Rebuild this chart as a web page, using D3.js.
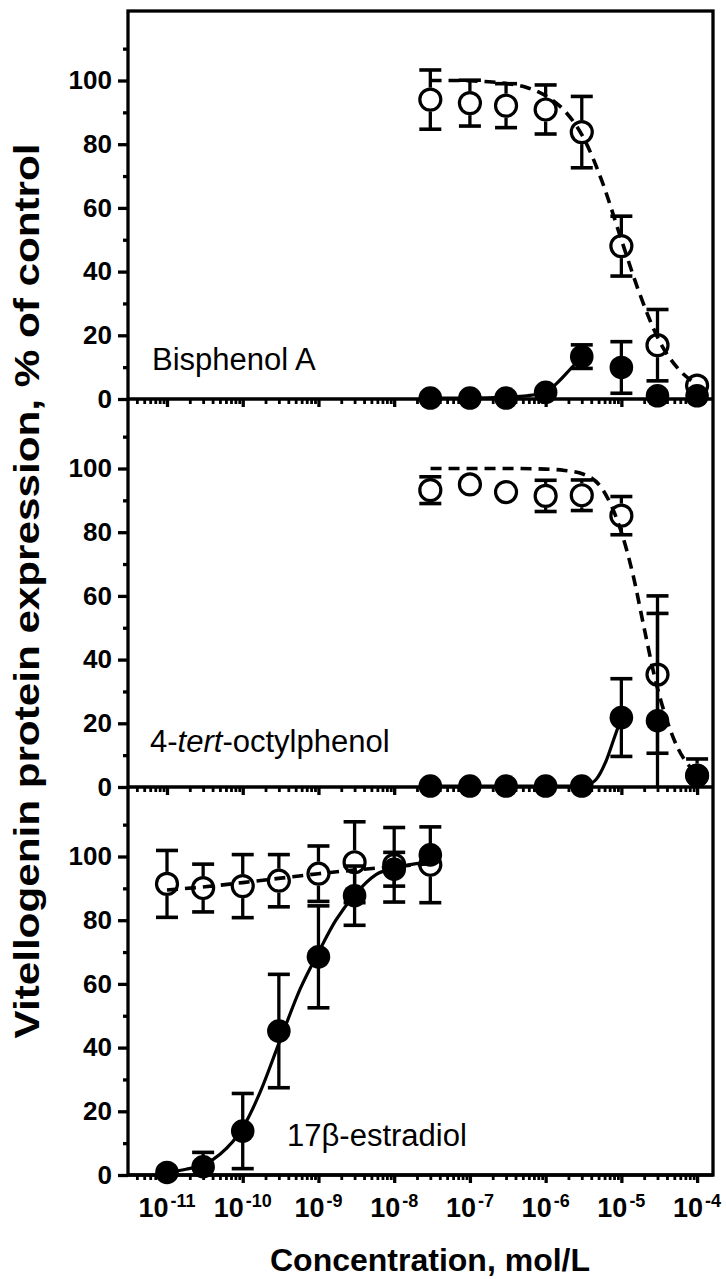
<!DOCTYPE html>
<html><head><meta charset="utf-8">
<script src="https://cdn.jsdelivr.net/npm/d3@7"></script>
<style>body{margin:0;background:#fff} svg{display:block}</style>
</head><body>
<svg id="chart" width="726" height="1279"></svg>
<script>
// ---------------- data ----------------
const concPhenols = [3e-8, 1e-7, 3e-7, 1e-6, 3e-6, 1e-5, 3e-5, 1e-4];
const concE2 = [1e-11, 3e-11, 1e-10, 3e-10, 1e-9, 3e-9, 1e-8, 3e-8];

// Bisphenol A
const bpaOpenMean = [94.0, 92.9, 92.1, 90.9, 83.8, 48.0, 16.9, 4.2];
const bpaOpenErr  = [9.3, 7.2, 6.9, 7.7, 11.2, 9.4, 11.2, 0];
const bpaFilledMean = [0.3, 0.3, 0.3, 2.1, 13.3, 9.9, 1.0, 1.0];
const bpaFilledErr  = [0, 0, 0, 0, 3.7, 8.1, 0, 0];
// fitted curves: [log10 conc, value]
const bpaOpenFitX = [-7.52, -7.25, -7, -6.75, -6.5, -6.25, -6, -5.75, -5.5, -5.25, -5, -4.75, -4.5, -4.25, -4];
const bpaOpenFitY = [100, 100, 99.9, 99.6, 99.0, 97.8, 95.2, 90.5, 82, 68, 50, 32.5, 18.3, 9.5, 4.6];
const bpaFilledFitX = [-7.52, -7, -6.52, -6.25, -6, -5.85, -5.67, -5.52];
const bpaFilledFitY = [0.3, 0.3, 0.6, 1.0, 2.1, 5.0, 9.5, 13.3];

// 4-tert-octylphenol
const opOpenMean = [93.2, 95.0, 92.6, 91.4, 91.6, 85.2, 35.3, 3.6];
const opOpenErr  = [4.2, 0, 0, 4.9, 4.8, 6.0, 24.7, 5.2];
const opFilledMean = [0.3, 0.3, 0.3, 0.3, 0.3, 21.8, 20.8, 3.6];
const opFilledErr  = [0, 0, 0, 0, 0, 12.2, 33.7, 0];
const opOpenFitX = [-7.52, -7, -6.5, -6, -5.75, -5.5, -5.25, -5, -4.85, -4.7, -4.55, -4.4, -4.25, -4.1, -4];
const opOpenFitY = [100, 100, 100, 99.8, 99.4, 98.2, 93.5, 80, 67, 50, 33.5, 21, 12, 6.5, 4.2];
const opFilledFitX = [-7.52, -7, -6.5, -6, -5.52, -5.42, -5.34, -5.2, -5.1, -5];
const opFilledFitY = [0.3, 0.3, 0.3, 0.3, 0.3, 0.9, 2.2, 8.3, 15, 21.8];

// 17beta-estradiol
const e2OpenMean = [91.4, 90.1, 90.7, 92.4, 94.6, 98.2, 97.4, 97.4];
const e2OpenErr  = [10.5, 7.5, 9.9, 8.2, 8.7, 12.7, 11.7, 11.9];
const e2FilledMean = [0.8, 2.6, 13.8, 45.2, 68.5, 87.7, 96.0, 100.5];
const e2FilledErr  = [0, 4.5, 11.8, 17.8, 16.0, 9.3, 5.3, 0];
const e2OpenFitX = [-11, -10.5, -10, -9.5, -9, -8.5, -8, -7.52];
const e2OpenFitY = [89.5, 90.5, 91.8, 93.2, 94.6, 95.8, 96.8, 97.8];
const e2FilledFitX = [-11, -10.75, -10.5, -10.3, -10, -9.77, -9.52, -9.24, -9, -8.77, -8.52, -8.24, -8, -7.75, -7.52];
const e2FilledFitY = [0.8, 1.8, 3.4, 6.5, 14.8, 26, 41.5, 58.5, 69.9, 80, 88, 94.3, 96.4, 97.6, 98.4];

const panelLabels = ["Bisphenol A", "4-tert-octylphenol", "17β-estradiol"];
const yMajorTicks = [0, 20, 40, 60, 80, 100];
const yMinorTicks = [10, 30, 50, 70, 90, 110];
const xMajorExp = [-11, -10, -9, -8, -7, -6, -5, -4];
const xLabel = "Concentration, mol/L";
const yLabel = "Vitellogenin protein expression, % of control";

// ---------------- layout ----------------
const L = 128, R = 713, T = 11, PH = 388;
const FONT = "Liberation Sans, Arial, sans-serif";
const svg = d3.select("#chart");
const x = d3.scaleLog().domain([Math.pow(10, -11.515), Math.pow(10, -3.79)]).range([L, R]);
const xMajor = xMajorExp.map(e => Math.pow(10, e));
const xMinor = x.ticks().filter(v => Math.abs(Math.log10(v) - Math.round(Math.log10(v))) > 1e-6);

const panels = [
  {conc: concPhenols, om: bpaOpenMean, oe: bpaOpenErr, fm: bpaFilledMean, fe: bpaFilledErr,
   ofx: bpaOpenFitX, ofy: bpaOpenFitY, ffx: bpaFilledFitX, ffy: bpaFilledFitY, lx: 152, ly: 370},
  {conc: concPhenols, om: opOpenMean, oe: opOpenErr, fm: opFilledMean, fe: opFilledErr,
   ofx: opOpenFitX, ofy: opOpenFitY, ffx: opFilledFitX, ffy: opFilledFitY, lx: 150, ly: 752},
  {conc: concE2, om: e2OpenMean, oe: e2OpenErr, fm: e2FilledMean, fe: e2FilledErr,
   ofx: e2OpenFitX, ofy: e2OpenFitY, ffx: e2FilledFitX, ffy: e2FilledFitY, lx: 287, ly: 1146}
];

const R_OPEN = 10.5, R_FILL = 11.8, CAP = 11, SW = 3.3;

panels.forEach((p, i) => {
  const zero = T + PH * (i + 1);
  const y = d3.scaleLinear().domain([0, PH / 3.185]).range([zero, zero - PH]);
  const g = svg.append("g");

  // y axis major & minor
  const ya = g.append("g").attr("transform", `translate(${L},0)`)
    .call(d3.axisLeft(y).tickValues(yMajorTicks).tickSize(10).tickPadding(6).tickFormat(d3.format("d")));
  ya.select(".domain").remove();
  ya.selectAll("line").attr("stroke", "#000").attr("stroke-width", SW);
  ya.selectAll("text").attr("font-family", FONT)
    .attr("font-weight", "bold").attr("font-size", 26).attr("fill", "#000");
  const ym = g.append("g").attr("transform", `translate(${L},0)`)
    .call(d3.axisLeft(y).tickValues(yMinorTicks).tickSize(5).tickFormat(""));
  ym.select(".domain").remove();
  ym.selectAll("line").attr("stroke", "#000").attr("stroke-width", SW);

  // x axis ticks at zero line
  const xa = g.append("g").attr("transform", `translate(0,${zero})`)
    .call(d3.axisBottom(x).tickValues(xMajor).tickSize(8).tickFormat(""));
  xa.select(".domain").remove();
  xa.selectAll("line").attr("stroke", "#000").attr("stroke-width", SW);
  const xm = g.append("g").attr("transform", `translate(0,${zero})`)
    .call(d3.axisBottom(x).tickValues(xMinor).tickSize(5).tickFormat(""));
  xm.select(".domain").remove();
  xm.selectAll("line").attr("stroke", "#000").attr("stroke-width", 2.8);

  // zero line
  g.append("line").attr("x1", L).attr("x2", R).attr("y1", zero).attr("y2", zero)
    .attr("stroke", "#000").attr("stroke-width", SW);

  // curves
  const line = d3.line().x(d => x(Math.pow(10, d[0]))).y(d => y(d[1])).curve(d3.curveMonotoneX);
  g.append("path").attr("d", line(p.ofx.map((v, k) => [v, p.ofy[k]])))
    .attr("fill", "none").attr("stroke", "#000").attr("stroke-width", 3.6).attr("stroke-dasharray", "11,7");
  g.append("path").attr("d", line(p.ffx.map((v, k) => [v, p.ffy[k]])))
    .attr("fill", "none").attr("stroke", "#000").attr("stroke-width", 3.2);

  // error bars
  function errBars(means, errs, open) {
    means.forEach((m, k) => {
      const e = errs[k];
      if (!e) return;
      const cx = x(p.conc[k]);
      const cy = y(m);
      const upV = m + e, loV = m - e;
      const up = y(upV);
      const inner = open ? R_OPEN + 1.5 : 0;
      if (up < cy - inner) {
        g.append("line").attr("x1", cx).attr("x2", cx).attr("y1", cy - inner).attr("y2", up)
          .attr("stroke", "#000").attr("stroke-width", SW);
        g.append("line").attr("x1", cx - CAP).attr("x2", cx + CAP).attr("y1", up).attr("y2", up)
          .attr("stroke", "#000").attr("stroke-width", 3.6);
      }
      const lo = y(Math.max(0, loV));
      if (lo > cy + inner) {
        g.append("line").attr("x1", cx).attr("x2", cx).attr("y1", cy + inner).attr("y2", lo)
          .attr("stroke", "#000").attr("stroke-width", SW);
        if (loV > 0) g.append("line").attr("x1", cx - CAP).attr("x2", cx + CAP).attr("y1", lo).attr("y2", lo)
          .attr("stroke", "#000").attr("stroke-width", 3.6);
      }
    });
  }
  errBars(p.om, p.oe, true);
  errBars(p.fm, p.fe, false);

  // markers
  g.selectAll(".open").data(p.om).enter().append("circle")
    .attr("cx", (d, k) => x(p.conc[k])).attr("cy", d => y(d)).attr("r", R_OPEN)
    .attr("fill", "none").attr("stroke", "#000").attr("stroke-width", 3.2);
  g.selectAll(".filled").data(p.fm).enter().append("circle")
    .attr("cx", (d, k) => x(p.conc[k])).attr("cy", d => y(d)).attr("r", R_FILL)
    .attr("fill", "#000");

  // panel label
  const t = g.append("text").attr("x", p.lx).attr("y", p.ly)
    .attr("font-family", FONT).attr("font-size", 31).attr("fill", "#000");
  if (i === 1) {
    t.append("tspan").text("4-");
    t.append("tspan").attr("font-style", "italic").text("tert");
    t.append("tspan").text("-octylphenol");
  } else {
    t.text(panelLabels[i]);
  }
});

// frame
svg.append("rect").attr("x", L).attr("y", T).attr("width", R - L).attr("height", PH * 3)
  .attr("fill", "none").attr("stroke", "#000").attr("stroke-width", SW);

// x tick labels
const xl = svg.append("g");
xMajorExp.forEach(e => {
  const t = xl.append("text").attr("x", x(Math.pow(10, e))).attr("y", 1217)
    .attr("text-anchor", "middle").attr("font-family", FONT)
    .attr("font-weight", "bold").attr("font-size", 27).attr("fill", "#000");
  t.append("tspan").text("10");
  t.append("tspan").attr("dx", 2).attr("dy", -10).attr("font-size", 18).text(String(e));
});

// axis titles
svg.append("text").attr("x", 430).attr("y", 1271).attr("text-anchor", "middle")
  .attr("font-family", FONT).attr("font-weight", "bold")
  .attr("font-size", 32).attr("fill", "#000").text(xLabel);
svg.append("text").attr("transform", `translate(39,591) rotate(-90)`).attr("text-anchor", "middle")
  .attr("font-family", FONT).attr("font-weight", "bold")
  .attr("font-size", 35).attr("textLength", 895).attr("lengthAdjust", "spacingAndGlyphs")
  .attr("fill", "#000").text(yLabel);
</script>
</body></html>
